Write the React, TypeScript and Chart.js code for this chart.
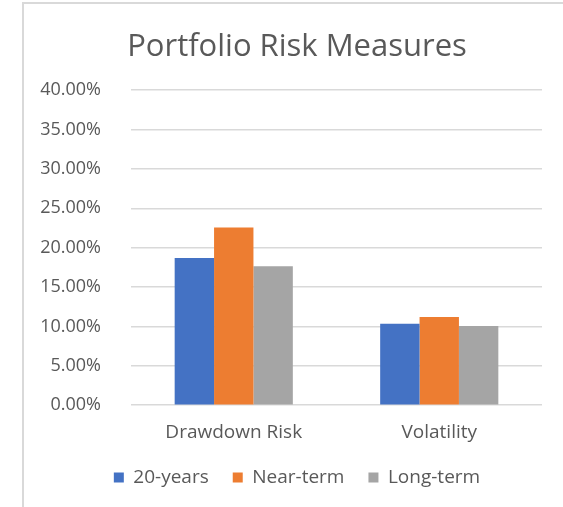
import React, { useEffect, useRef } from "react";
import { Chart, registerables } from "chart.js";

Chart.register(...registerables);

const categories = ["Drawdown Risk", "Volatility"];
const seriesNames = ["20-years", "Near-term", "Long-term"];
const twentyYears = [18.7, 10.35];
const nearTerm = [22.55, 11.2];
const longTerm = [17.65, 10.05];
const yTicks = [0, 5, 10, 15, 20, 25, 30, 35, 40];
const colors = ["#4472C4", "#ED7D31", "#A5A5A5"];

const FONT = "'Open Sans', 'Noto Sans', sans-serif";

const unclipYLabels = {
  id: "unclipYLabels",
  afterLayout(chart: any) {
    const y = chart.scales.y;
    if (y) y.left = 0;
  },
};

export default function App() {
  const ref = useRef<HTMLCanvasElement | null>(null);
  useEffect(() => {
    if (!ref.current) return;
    const chart = new Chart(ref.current, {
      type: "bar",
      data: {
        labels: categories,
        datasets: [twentyYears, nearTerm, longTerm].map((d, i) => ({
          label: seriesNames[i],
          data: d,
          backgroundColor: colors[i],
          borderWidth: 0,
          barPercentage: 1,
          categoryPercentage: 0.575,
        })),
      },
      options: {
        animation: false,
        responsive: false,
        layout: { padding: { top: 0, right: 21, bottom: 10, left: 28 } },
        plugins: {
          title: {
            display: true,
            text: "Portfolio Risk Measures",
            color: "#595959",
            font: { family: FONT, size: 31, weight: "normal" },
            padding: { top: 25, bottom: 24 },
          },
          legend: {
            position: "bottom",
            labels: {
              color: "#595959",
              font: { family: FONT, size: 19 },
              boxWidth: 10,
              boxHeight: 10,
              padding: 24,
            },
          },
          tooltip: { enabled: false },
        },
        scales: {
          x: {
            grid: { display: false, drawTicks: false },
            border: { display: false },
            ticks: {
              color: "#595959",
              font: { family: FONT, size: 19 },
              padding: 16,
            },
            afterFit: (s: any) => {
              s.height = s.height - 16;
              s.paddingLeft = 0;
              s.paddingRight = 0;
            },
          },
          y: {
            min: 0,
            max: 40,
            afterBuildTicks: (axis: any) => {
              axis.ticks = yTicks.map((v) => ({ value: v }));
            },
            afterFit: (s: any) => {
              s.width = 79;
            },
            grid: { color: "#d9d9d9", lineWidth: 1.5, drawTicks: false },
            border: { display: false },
            ticks: {
              color: "#595959",
              font: { family: FONT, size: 18 },
              padding: 30,
              callback: (v: any) => Number(v).toFixed(2) + "%",
            },
          },
        },
      },
      plugins: [unclipYLabels],
    });
    return () => chart.destroy();
  }, []);
  return (
    <div
      style={{
        position: "fixed",
        left: 0,
        top: 0,
        width: 563,
        height: 507,
        background: "#fff",
        overflow: "hidden",
      }}
    >
      <div
        style={{
          position: "absolute",
          left: 22,
          top: 2,
          width: 560,
          height: 520,
          borderLeft: "2px solid #d9d9d9",
          borderTop: "2px solid #d9d9d9",
        }}
      >
        <canvas ref={ref} width={539} height={503} style={{ display: "block" }} />
      </div>
    </div>
  );
}
